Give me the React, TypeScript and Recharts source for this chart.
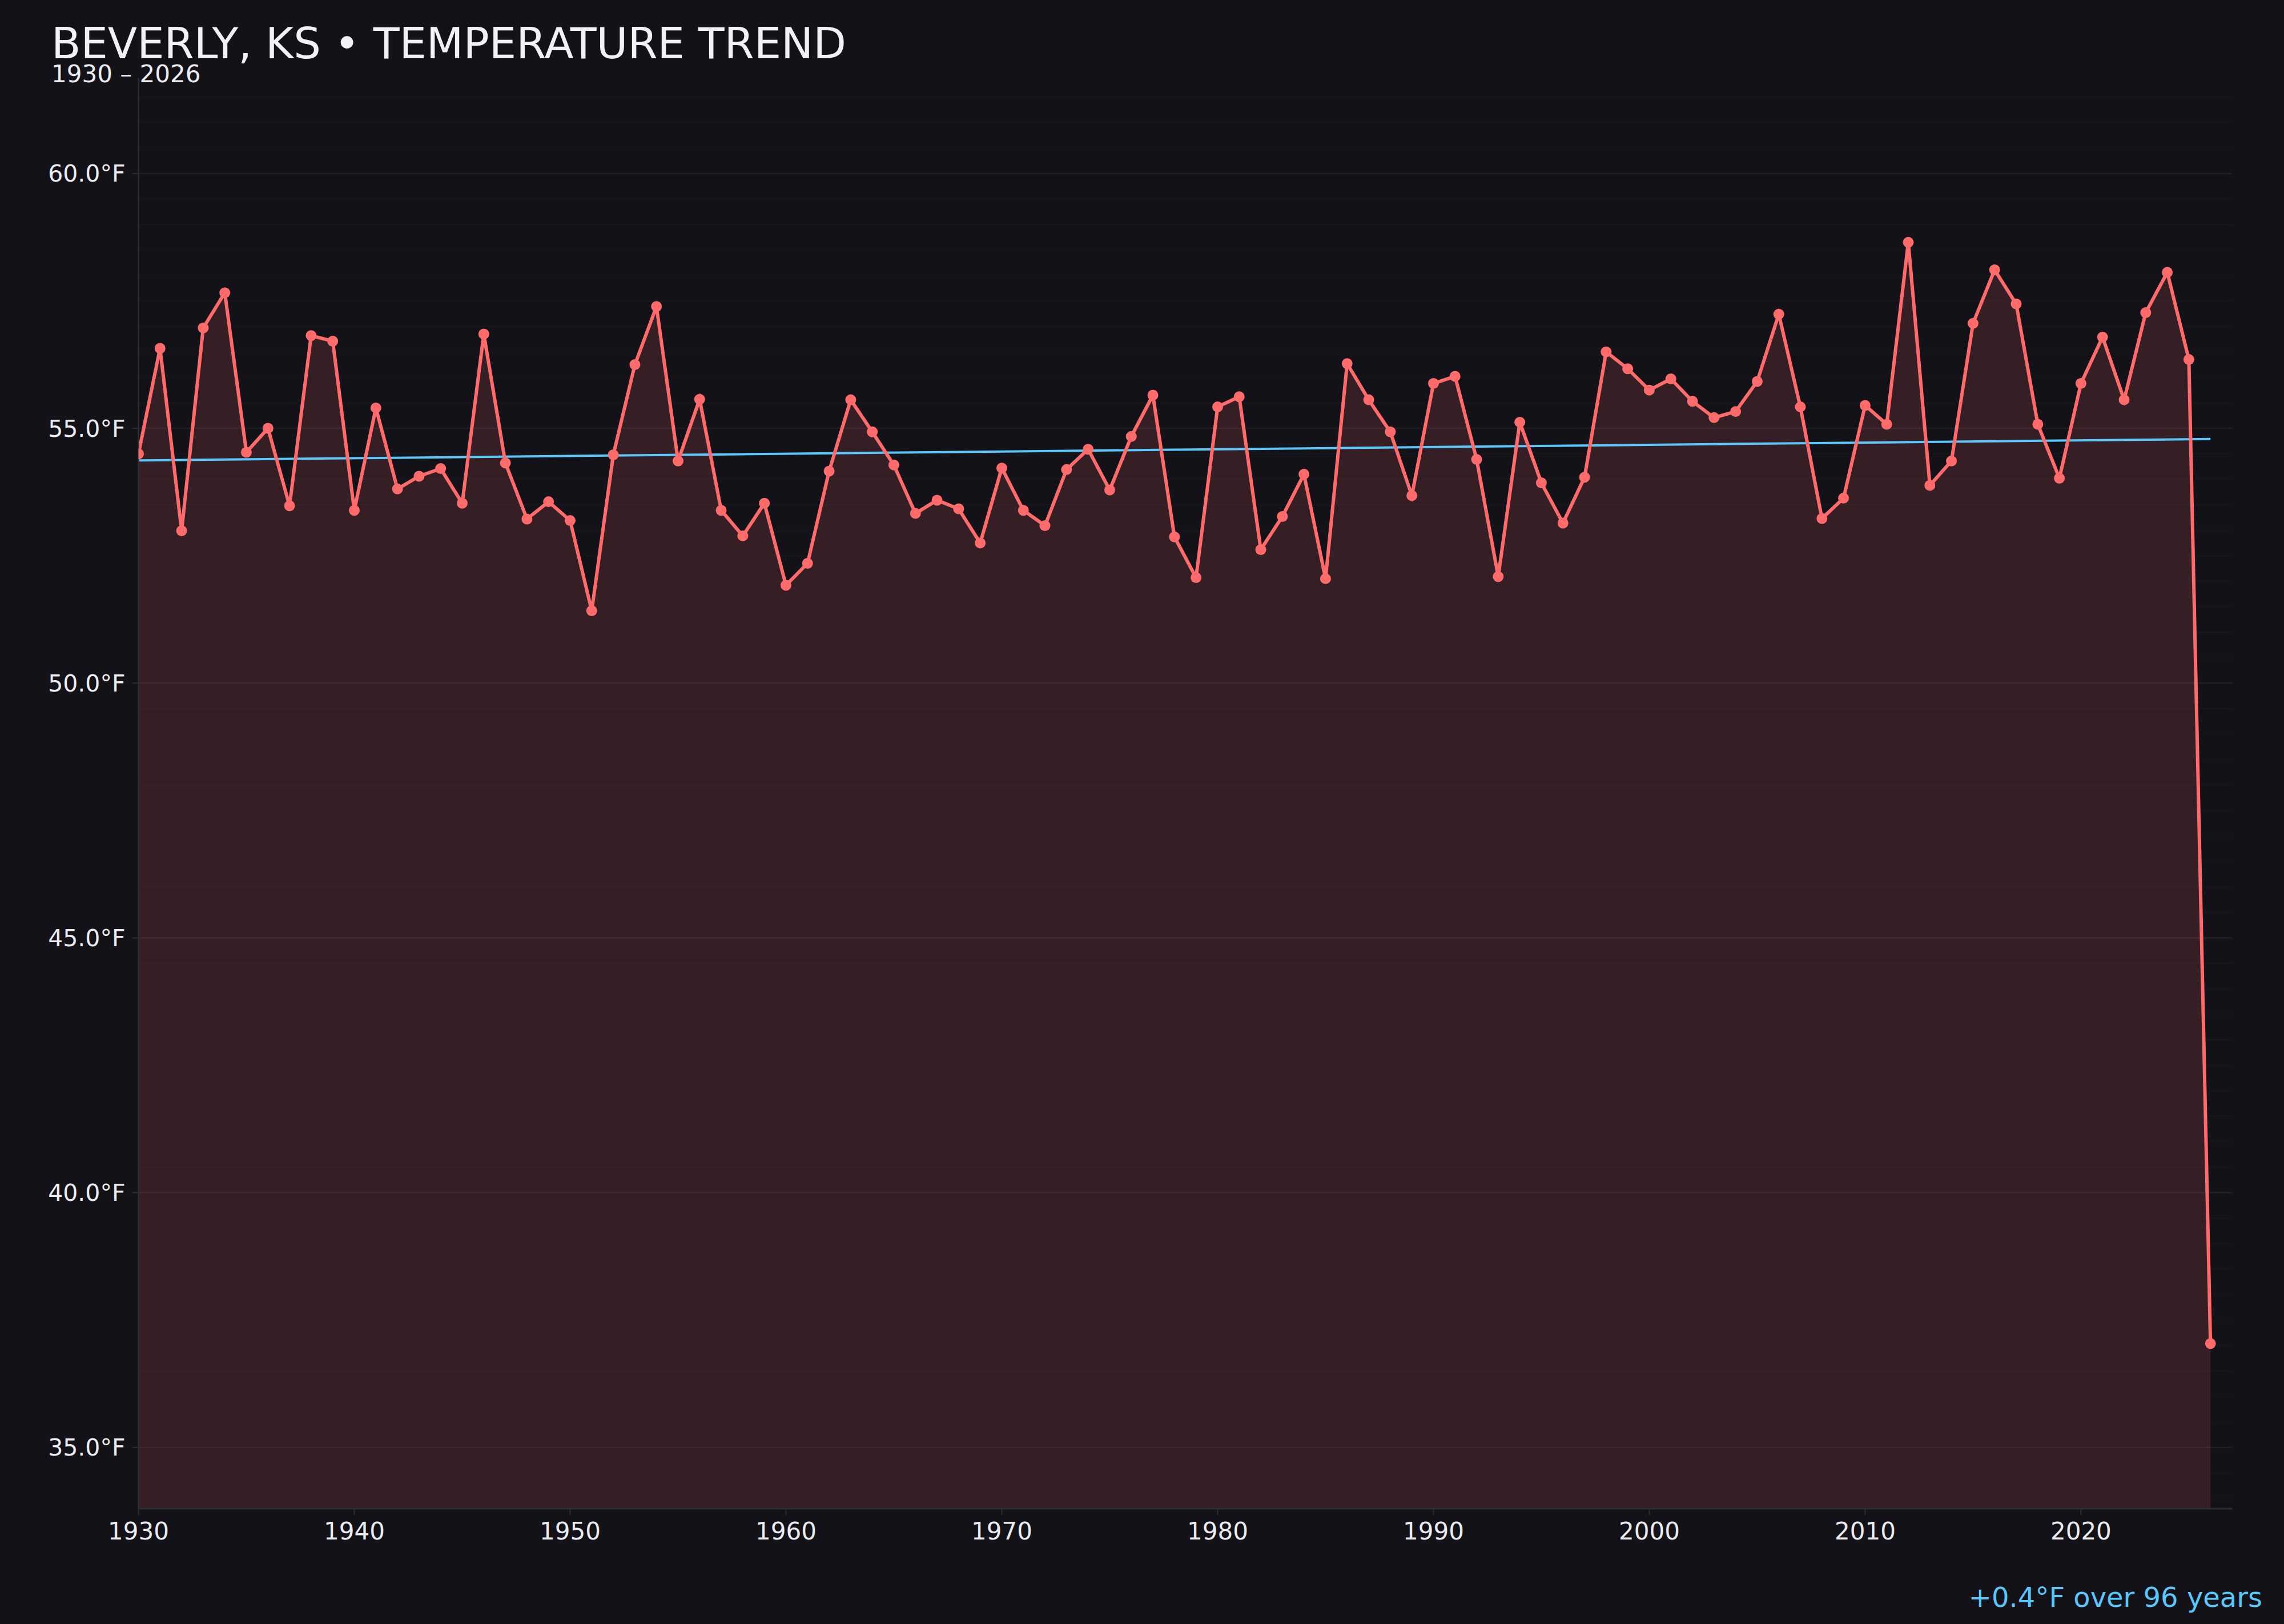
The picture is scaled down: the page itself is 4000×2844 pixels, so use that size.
import React from "react";
import {
  ComposedChart,
  Area,
  Line,
  XAxis,
  YAxis,
  CartesianGrid,
} from "recharts";

const years: number[] = [
  1930, 1931, 1932, 1933, 1934, 1935, 1936, 1937, 1938, 1939,
  1940, 1941, 1942, 1943, 1944, 1945, 1946, 1947, 1948, 1949,
  1950, 1951, 1952, 1953, 1954, 1955, 1956, 1957, 1958, 1959,
  1960, 1961, 1962, 1963, 1964, 1965, 1966, 1967, 1968, 1969,
  1970, 1971, 1972, 1973, 1974, 1975, 1976, 1977, 1978, 1979,
  1980, 1981, 1982, 1983, 1984, 1985, 1986, 1987, 1988, 1989,
  1990, 1991, 1992, 1993, 1994, 1995, 1996, 1997, 1998, 1999,
  2000, 2001, 2002, 2003, 2004, 2005, 2006, 2007, 2008, 2009,
  2010, 2011, 2012, 2013, 2014, 2015, 2016, 2017, 2018, 2019,
  2020, 2021, 2022, 2023, 2024, 2025, 2026,
];

const temps: number[] = [
  54.50, 56.57, 52.99, 56.97, 57.66, 54.53, 55.00, 53.48, 56.82, 56.71,
  53.39, 55.40, 53.81, 54.06, 54.21, 53.53, 56.85, 54.32, 53.22, 53.56,
  53.19, 51.42, 54.48, 56.25, 57.39, 54.36, 55.57, 53.39, 52.89, 53.53,
  51.92, 52.35, 54.16, 55.56, 54.93, 54.28, 53.33, 53.59, 53.42, 52.75,
  54.22, 53.39, 53.09, 54.19, 54.59, 53.79, 54.84, 55.65, 52.87, 52.07,
  55.42, 55.62, 52.62, 53.27, 54.10, 52.05, 56.27, 55.56, 54.93, 53.68,
  55.88, 56.02, 54.39, 52.09, 55.12, 53.93, 53.14, 54.04, 56.50, 56.17,
  55.75, 55.97, 55.53, 55.21, 55.33, 55.92, 57.24, 55.42, 53.23, 53.63,
  55.45, 55.08, 58.65, 53.88, 54.36, 57.06, 58.11, 57.44, 55.08, 54.02,
  55.88, 56.79, 55.56, 57.27, 58.06, 56.35, 37.04,
];

// Linear trend endpoints
const trendYears: number[] = [1930, 2026];
const trendValues: number[] = [54.37, 54.79];

const xTicks: number[] = [1930, 1940, 1950, 1960, 1970, 1980, 1990, 2000, 2010, 2020];
const yTicks: number[] = [35, 40, 45, 50, 55, 60];
const minorGrid: number[] = [];
for (let v = 34; v <= 61.5; v += 0.5) {
  if (v % 5 !== 0) minorGrid.push(v);
}

const TITLE = "BEVERLY, KS • TEMPERATURE TREND";
const SUBTITLE = "1930 – 2026";
const FOOTNOTE = "+0.4°F over 96 years";

const data = years.map((year, i) => {
  const ti = trendYears.indexOf(year);
  return {
    year,
    temp: temps[i],
    trend: ti >= 0 ? trendValues[ti] : null,
  };
});

const BG = "#131218";
const RED = "#ff6b6b";
const BLUE = "#5ac8fa";
const AXIS = "#2c2c35";
const TEXT = "#ececf1";
const FONT = "'DejaVu Sans', sans-serif";

export default function App() {
  return (
    <div
      style={{
        position: "absolute",
        left: 0,
        top: 0,
        width: 4000,
        height: 2844,
        background: BG,
        overflow: "hidden",
        fontFamily: FONT,
      }}
    >
      <ComposedChart
        width={4000}
        height={2844}
        data={data}
        margin={{ top: 137, right: 91, bottom: 102, left: 0 }}
      >
        <CartesianGrid
          vertical={false}
          horizontalValues={minorGrid}
          syncWithTicks
          stroke="#ffffff"
          strokeOpacity={0.018}
          strokeWidth={2}
        />
        <CartesianGrid
          vertical={false}
          syncWithTicks
          stroke="#ffffff"
          strokeOpacity={0.06}
          strokeWidth={2.5}
        />
        <XAxis
          type="number"
          dataKey="year"
          domain={[1930, 2027]}
          ticks={xTicks}
          allowDataOverflow
          height={100}
          axisLine={{ stroke: AXIS, strokeWidth: 3 }}
          tickLine={{ stroke: AXIS, strokeWidth: 2 }}
          tickSize={11}
          tickMargin={13}
          tick={{ fill: TEXT, fontSize: 42, fontFamily: FONT }}
        />
        <YAxis
          type="number"
          domain={[33.8, 61.87]}
          ticks={yTicks}
          allowDataOverflow
          width={242.5}
          axisLine={{ stroke: AXIS, strokeWidth: 2.5 }}
          tickLine={{ stroke: AXIS, strokeWidth: 2 }}
          tickSize={11}
          tickMargin={12}
          tickFormatter={(v: number) => `${v.toFixed(1)}°F`}
          tick={{ fill: TEXT, fontSize: 41, fontFamily: FONT }}
        />
        <Area
          type="linear"
          dataKey="temp"
          stroke="none"
          fill={RED}
          fillOpacity={0.15}
          isAnimationActive={false}
          dot={false}
          activeDot={false}
        />
        <Line
          type="linear"
          dataKey="trend"
          stroke={BLUE}
          strokeWidth={4}
          dot={false}
          activeDot={false}
          connectNulls
          isAnimationActive={false}
        />
        <Line
          type="linear"
          dataKey="temp"
          stroke={RED}
          strokeWidth={6}
          dot={{ r: 9.5, fill: RED, stroke: "none" }}
          activeDot={false}
          isAnimationActive={false}
        />
      </ComposedChart>
      <svg
        width={4000}
        height={2844}
        style={{ position: "absolute", left: 0, top: 0, pointerEvents: "none" }}
      >
        <text x={90} y={101.5} fill="#f2f2f6" fontSize={75} fontFamily={FONT}>
          {TITLE}
        </text>
        <text x={90} y={144} fill={TEXT} fontSize={42} fontFamily={FONT}>
          {SUBTITLE}
        </text>
        <text
          x={3962}
          y={2814}
          fill={BLUE}
          fontSize={48}
          fontFamily={FONT}
          textAnchor="end"
        >
          {FOOTNOTE}
        </text>
      </svg>
    </div>
  );
}
